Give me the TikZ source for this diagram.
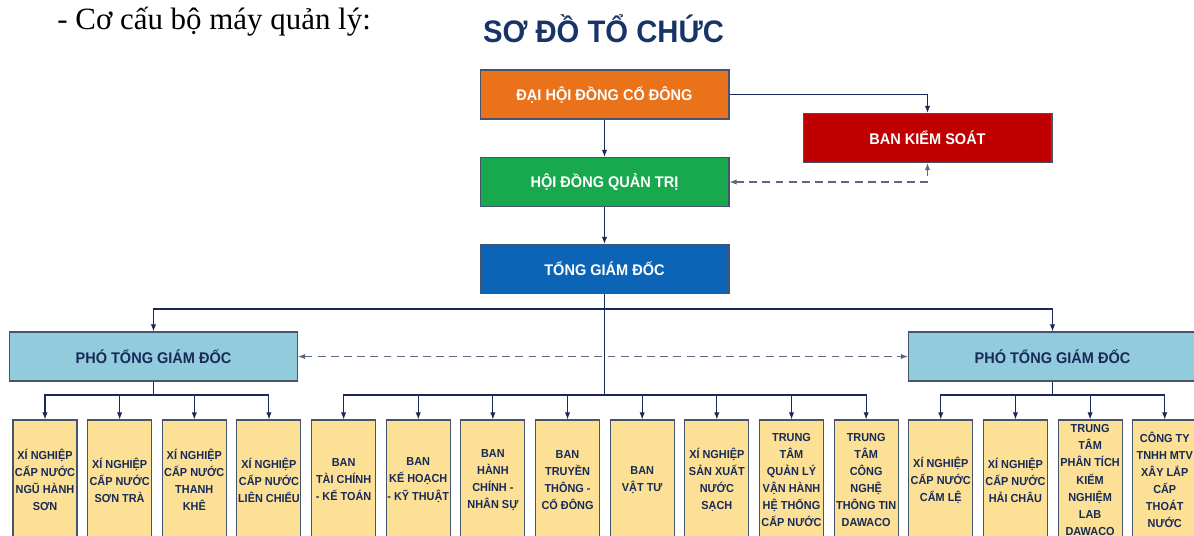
\documentclass[tikz,border=0pt]{standalone}
\usepackage{fontspec}
\setmainfont{Liberation Serif}
\newfontfamily\boxfont[FakeStretch=0.94]{Liberation Sans}
\usetikzlibrary{arrows, arrows.meta}
\usetikzlibrary{calc}

\definecolor{dhOrange}{RGB}{233,114,26}
\definecolor{hdGreen}{RGB}{24,168,78}
\definecolor{tgBlue}{RGB}{12,100,182}
\definecolor{bkRed}{RGB}{192,0,0}
\definecolor{ptBlue}{RGB}{146,204,220}
\definecolor{unitYellow}{RGB}{252,224,150}
\definecolor{edgeGray}{RGB}{70,84,108}
\definecolor{inkNavy}{RGB}{24,42,88}
\definecolor{titleNavy}{RGB}{22,52,102}
\definecolor{dashGray}{RGB}{90,104,130}

\tikzset{
  mainbox/.style={draw=edgeGray, line width=0.6pt, minimum width=4.98cm, minimum height=0.98cm,
    inner sep=0pt, text=white, font=\boxfont\bfseries\fontsize{8.8}{10}\selectfont},
  vicebox/.style={draw=edgeGray, line width=0.6pt, fill=ptBlue, minimum width=5.76cm, minimum height=0.98cm,
    inner sep=0pt, text=inkNavy, font=\boxfont\bfseries\fontsize{8.8}{10}\selectfont},
  unitbox/.style={draw=edgeGray, line width=0.6pt, fill=unitYellow, minimum width=1.28cm, minimum height=2.4cm,
    inner sep=0pt, align=center, text=inkNavy, font=\boxfont\bfseries\fontsize{6.6}{9.7}\selectfont},
  arr/.style={draw=inkNavy, line width=0.6pt, -{Latex[length=4pt,width=3pt]}},
  link/.style={draw=inkNavy, line width=0.6pt},
  dasharr/.style={draw=dashGray, line width=0.6pt, dash pattern=on 4.5pt off 3pt,
    {Latex[length=4pt,width=3pt]}-{Latex[length=4pt,width=3pt]}}
}

\begin{document}
\begin{tikzpicture}[x=0.02cm, y=-0.02cm]
  \useasboundingbox (0,0) rectangle (1194,535);

  \node[anchor=base west, inner sep=0pt, font=\fontsize{17.6}{20}\selectfont] (heading) at (57,29) {- Cơ cấu bộ máy quản lý:};
  \node[anchor=base, text=titleNavy, font=\boxfont\bfseries\fontsize{17.7}{20}\selectfont] (title) at (603.5,42) {SƠ ĐỒ TỔ CHỨC};

  % top levels
  \node[mainbox, fill=dhOrange] (dhdcd) at (604.5,94.5) {ĐẠI HỘI ĐỒNG CỔ ĐÔNG};
  \node[mainbox, fill=hdGreen] (hdqt) at (604.5,182) {HỘI ĐỒNG QUẢN TRỊ};
  \node[mainbox, fill=tgBlue] (tgd) at (604.5,269) {TỔNG GIÁM ĐỐC};
  \node[mainbox, fill=bkRed] (bks) at (927.5,138) {BAN KIỂM SOÁT};

  \node[vicebox] (ptgdL) at (153.5,356.5) {PHÓ TỔNG GIÁM ĐỐC};
  \node[vicebox] (ptgdR) at (1052.5,356.5) {PHÓ TỔNG GIÁM ĐỐC};

  % units
  \foreach \txt [count=\i] in {
      {XÍ NGHIỆP\\CẤP NƯỚC\\NGŨ HÀNH\\SƠN},
      {XÍ NGHIỆP\\CẤP NƯỚC\\SƠN TRÀ},
      {XÍ NGHIỆP\\CẤP NƯỚC\\THANH\\KHÊ},
      {XÍ NGHIỆP\\CẤP NƯỚC\\LIÊN CHIỂU},
      {BAN\\TÀI CHÍNH\\- KẾ TOÁN},
      {BAN\\KẾ HOẠCH\\- KỸ THUẬT},
      {BAN\\HÀNH\\CHÍNH -\\NHÂN SỰ},
      {BAN\\TRUYỀN\\THÔNG -\\CỔ ĐÔNG},
      {BAN\\VẬT TƯ},
      {XÍ NGHIỆP\\SẢN XUẤT\\NƯỚC\\SẠCH},
      {TRUNG\\TÂM\\QUẢN LÝ\\VẬN HÀNH\\HỆ THỐNG\\CẤP NƯỚC},
      {TRUNG\\TÂM\\CÔNG\\NGHỆ\\THÔNG TIN\\DAWACO},
      {XÍ NGHIỆP\\CẤP NƯỚC\\CẨM LỆ},
      {XÍ NGHIỆP\\CẤP NƯỚC\\HẢI CHÂU},
      {TRUNG\\TÂM\\PHÂN TÍCH\\KIỂM\\NGHIỆM\\LAB\\DAWACO},
      {CÔNG TY\\TNHH MTV\\XÂY LẮP\\CẤP\\THOÁT\\NƯỚC}} {
    \node[unitbox] (u\i) at ({45+74.65*(\i-1)},480) {\txt};
  }

  % connectors
  \coordinate (barTop) at (604.5,309);
  \coordinate (barMid) at (604.5,395);
  \coordinate (barL) at (153.5,395);
  \coordinate (barR) at (1052.5,395);

  \draw[arr] (dhdcd) -- (hdqt);
  \draw[arr] (hdqt) -- (tgd);
  \draw[arr] (dhdcd.east) -| (bks.north);
  \draw[dasharr] (hdqt.east) -| (bks.south);

  \draw[link] (tgd.south) -- (barTop) -- (barMid);
  \draw[arr] (barTop) -| (ptgdL.north);
  \draw[arr] (barTop) -| (ptgdR.north);
  \draw[dasharr] (ptgdL.east) -- (ptgdR.west);

  \draw[link] (ptgdL.south) -- (barL);
  \draw[link] (ptgdR.south) -- (barR);
  \foreach \i in {1,...,4} {
    \draw[arr] (barL) -| (u\i.north);
  }
  \foreach \i in {5,...,12} {
    \draw[arr] (barMid) -| (u\i.north);
  }
  \foreach \i in {13,...,16} {
    \draw[arr] (barR) -| (u\i.north);
  }
\end{tikzpicture}
\end{document}
